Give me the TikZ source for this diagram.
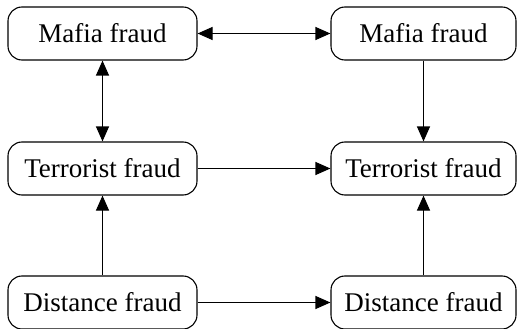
\documentclass[tikz,border=0pt]{standalone}
\usepackage{fontspec}
\setmainfont{Liberation Serif}
\usetikzlibrary{arrows.meta}
\begin{document}
\begin{tikzpicture}[x=1pt,y=-1pt,
  fbox/.style={draw, rounded corners=14pt, line width=1.1pt, inner sep=0pt,
    minimum height=53pt, font=\fontsize{27}{30}\selectfont},
  lbox/.style={fbox, minimum width=189pt},
  rbox/.style={fbox, minimum width=185pt},
  conn/.style={line width=1.1pt, -{Triangle[length=15pt,width=13pt]}},
  bconn/.style={line width=1.1pt, {Triangle[length=15pt,width=13pt]}-{Triangle[length=15pt,width=13pt]}}]
\useasboundingbox (0,0) rectangle (517,329);
\node[lbox] (ml) at (102.5,33.5) {Mafia fraud};
\node[rbox] (mr) at (423.5,33.5) {Mafia fraud};
\node[lbox] (tl) at (102.5,168.5) {Terrorist fraud};
\node[rbox] (tr) at (423.5,168.5) {Terrorist fraud};
\node[lbox] (dl) at (102.5,302.5) {Distance fraud};
\node[rbox] (dr) at (423.5,302.5) {Distance fraud};
\draw[bconn] (ml) -- (mr);
\draw[bconn] (ml) -- (tl);
\draw[conn] (mr) -- (tr);
\draw[conn] (tl) -- (tr);
\draw[conn] (dl) -- (tl);
\draw[conn] (dr) -- (tr);
\draw[conn] (dl) -- (dr);
\end{tikzpicture}
\end{document}
